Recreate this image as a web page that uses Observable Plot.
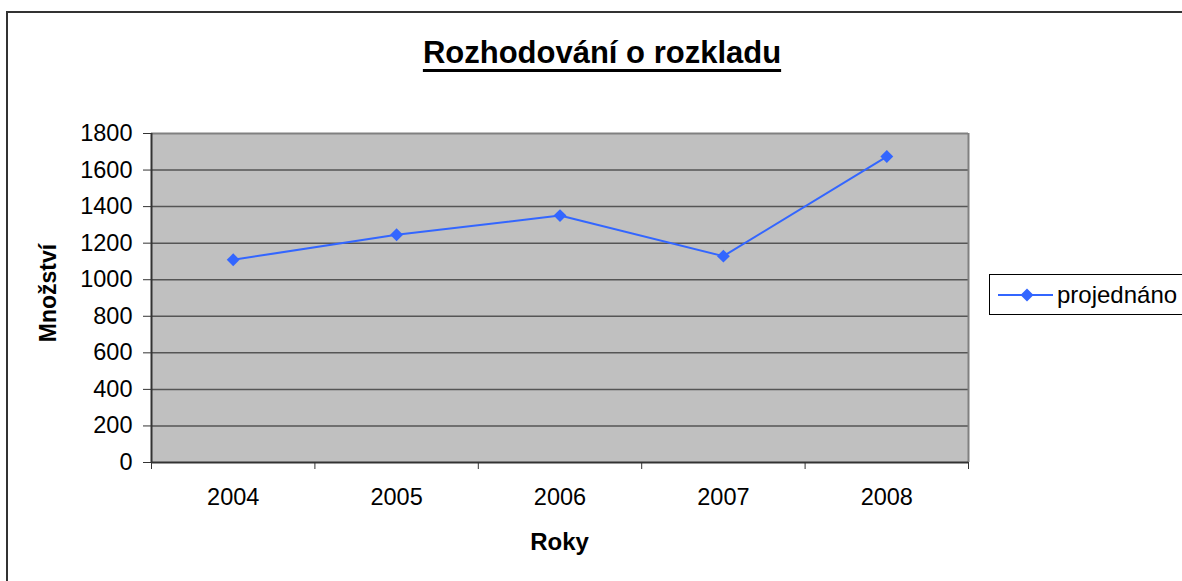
<!DOCTYPE html>
<html>
<head>
<meta charset="utf-8">
<script src="https://cdn.jsdelivr.net/npm/d3@7"></script>
<script src="https://cdn.jsdelivr.net/npm/@observablehq/plot@0.6"></script>
<style>
  html, body { margin: 0; padding: 0; background: #fff; overflow: hidden; }
  #wrap { position: relative; width: 1182px; height: 581px; overflow: hidden; font-family: "Liberation Sans", Arial, sans-serif; color: #000; }
  #border { position: absolute; left: 6px; top: 11px; width: 1250px; height: 650px; border: 2px solid #333; box-sizing: border-box; }
  #chart { position: absolute; left: 0; top: 0; }
  #title { position: absolute; left: 602px; top: 37px; transform: translateX(-50%); font-size: 31px; font-weight: bold; line-height: 1; white-space: nowrap; text-decoration: underline; text-decoration-thickness: 3px; text-underline-offset: 6px; }
  #ytitle { position: absolute; left: 48px; top: 293px; transform: translate(-50%, -50%) rotate(-90deg); font-size: 23px; font-weight: bold; line-height: 1; white-space: nowrap; }
  #xtitle { position: absolute; left: 559.5px; top: 530px; transform: translateX(-50%); font-size: 24px; font-weight: bold; line-height: 1; white-space: nowrap; }
  #legend { position: absolute; left: 989px; top: 274px; width: 240px; height: 41px; box-sizing: border-box; border: 1px solid #000; background: #fff; display: flex; align-items: center; }
  #legend svg { flex: none; }
  #legend span { font-size: 24px; margin-left: 3px; line-height: 1; }
</style>
</head>
<body>
<div id="wrap">
  <div id="border"></div>
  <div id="chart"></div>
  <div id="title"></div>
  <div id="ytitle"></div>
  <div id="xtitle"></div>
  <div id="legend"></div>
</div>
<script>
const years = [2004, 2005, 2006, 2007, 2008];
const projednano = [1109, 1246, 1351, 1129, 1674];
const yTicks = [0, 200, 400, 600, 800, 1000, 1200, 1400, 1600, 1800];
const seriesName = "projednáno";
const chartTitle = "Rozhodování o rozkladu";
const xTitle = "Roky";
const yTitle = "Množství";
const lineColor = "#3366FF";

const data = years.map((y, i) => ({year: y, value: projednano[i]}));
const boundaries = [years[0] - 0.5, ...years.map(y => y + 0.5)];
const yMax = yTicks[yTicks.length - 1];

const plot = Plot.plot({
  width: 1182,
  height: 581,
  marginLeft: 151,
  marginRight: 214,
  marginTop: 133,
  marginBottom: 119,
  style: {fontFamily: "'Liberation Sans', Arial, sans-serif", fontSize: "23.5px", background: "transparent", color: "#000"},
  x: {type: "linear", domain: [boundaries[0], boundaries[boundaries.length - 1]]},
  y: {domain: [0, yMax]},
  marks: [
    Plot.frame({fill: "#C0C0C0", stroke: "none"}),
    Plot.ruleY(yTicks.slice(1, -1), {stroke: "#555", strokeWidth: 1.5}),
    Plot.ruleY([yMax], {stroke: "#808080", strokeWidth: 2}),
    Plot.ruleX([boundaries[boundaries.length - 1]], {stroke: "#808080", strokeWidth: 2}),
    Plot.ruleX([boundaries[0]], {stroke: "#333", strokeWidth: 2}),
    Plot.ruleY([0], {stroke: "#333", strokeWidth: 2}),
    Plot.axisY({ticks: yTicks, tickSize: 8, tickPadding: 11, tickFormat: d => String(d), label: null, stroke: "#333"}),
    Plot.axisX({ticks: years, tickSize: 0, tickPadding: 26, tickFormat: d => String(d), label: null}),
    Plot.axisX({ticks: boundaries, tickSize: 7, tickFormat: () => "", label: null, stroke: "#333"}),
    Plot.line(data, {x: "year", y: "value", stroke: lineColor, strokeWidth: 2}),
    Plot.dot(data, {x: "year", y: "value", symbol: "diamond2", r: 5.8, fill: lineColor, stroke: "none"})
  ]
});
document.getElementById("chart").appendChild(plot);

document.getElementById("title").textContent = chartTitle;
document.getElementById("ytitle").textContent = yTitle;
document.getElementById("xtitle").textContent = xTitle;

const legend = document.getElementById("legend");
const ns = "http://www.w3.org/2000/svg";
const ls = document.createElementNS(ns, "svg");
ls.setAttribute("width", 64);
ls.setAttribute("height", 39);
const ln = document.createElementNS(ns, "line");
ln.setAttribute("x1", 8); ln.setAttribute("x2", 63);
ln.setAttribute("y1", 20); ln.setAttribute("y2", 20);
ln.setAttribute("stroke", lineColor); ln.setAttribute("stroke-width", 2);
ls.appendChild(ln);
const dm = document.createElementNS(ns, "path");
dm.setAttribute("d", "M37,13.5L43.5,20L37,26.5L30.5,20Z");
dm.setAttribute("fill", lineColor);
ls.appendChild(dm);
legend.appendChild(ls);
const sp = document.createElement("span");
sp.textContent = seriesName;
legend.appendChild(sp);
</script>
</body>
</html>
